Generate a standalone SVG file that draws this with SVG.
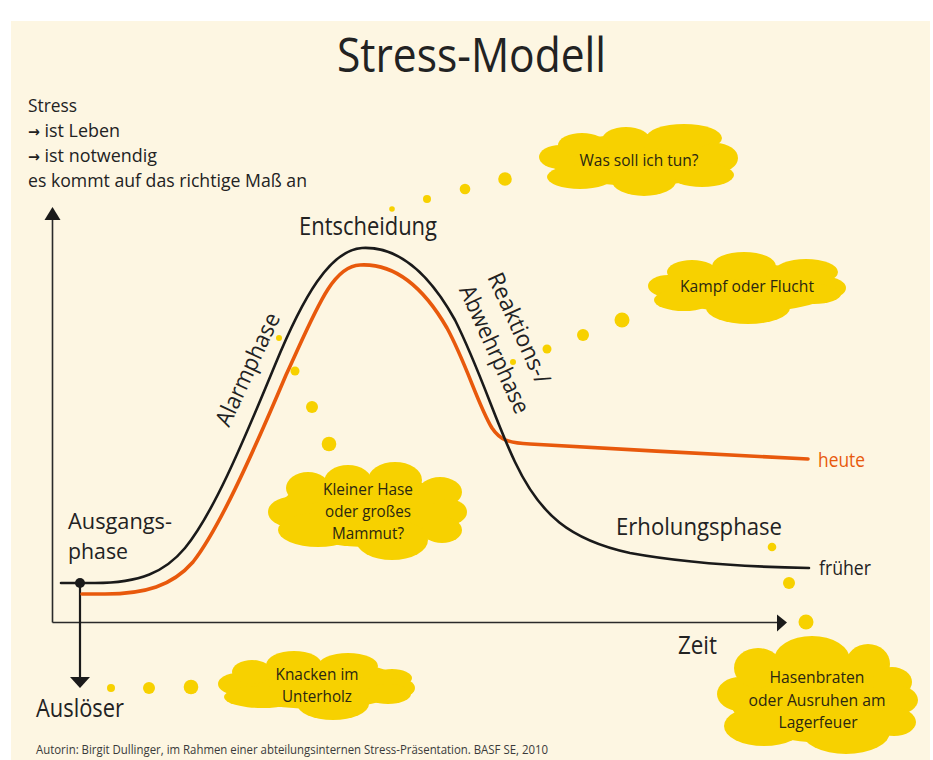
<svg xmlns="http://www.w3.org/2000/svg" width="933" height="760" viewBox="0 0 933 760">
<style>
.t{font-family:"Open Sans","Liberation Sans",sans-serif;fill:#222}
.c{font-family:"Open Sans","Liberation Sans",sans-serif;fill:#2b2710;font-size:16.5px;text-anchor:middle}
.ar{font-family:"DejaVu Sans","Open Sans",sans-serif;font-weight:bold}
.cloud{fill:#f7d100}
.dot{fill:#f7d100}
.ax{stroke:#2a2a2a;stroke-width:1.6;fill:none}
.arr{fill:#1a1a1a}
</style>
<rect width="933" height="760" fill="#ffffff"/>
<rect x="11" y="21" width="919" height="739" fill="#fdf6e2"/>

<g id="title"><text class="t" x="337" y="72" font-size="48" textLength="269" lengthAdjust="spacingAndGlyphs">Stress-Modell</text></g>

<g id="note" class="t" font-size="19">
<text x="28" y="112" textLength="49" lengthAdjust="spacingAndGlyphs">Stress</text>
<text x="28" y="137" textLength="92" lengthAdjust="spacingAndGlyphs"><tspan class="ar" font-size="15">→</tspan> ist Leben</text>
<text x="28" y="162" textLength="129" lengthAdjust="spacingAndGlyphs"><tspan class="ar" font-size="15">→</tspan> ist notwendig</text>
<text x="28" y="187" textLength="279" lengthAdjust="spacingAndGlyphs">es kommt auf das richtige Maß an</text>
</g>

<g id="axes">
<line class="ax" x1="52.5" y1="216" x2="52.5" y2="622.5"/>
<line class="ax" x1="52.5" y1="622.5" x2="779" y2="622.5"/>
<polygon class="arr" points="44.5,220 52.5,207 60.5,220"/>
<polygon class="arr" points="777,614.5 787,622.5 777,631.5"/>
</g>

<g id="connectors">
<g id="trigger-arrow">
<line x1="80" y1="583" x2="80" y2="679" stroke="#1a1a1a" stroke-width="2.2"/>
<polygon class="arr" points="70,677 90,677 80,688"/>
</g>
<g id="dots-was-soll">
<circle class="dot" cx="392" cy="209" r="2.8"/>
<circle class="dot" cx="427" cy="199" r="4"/>
<circle class="dot" cx="465" cy="189" r="5.3"/>
<circle class="dot" cx="505" cy="179" r="6.8"/>
</g>
<g id="dots-kampf">
<circle class="dot" cx="513" cy="362" r="3"/>
<circle class="dot" cx="547" cy="349" r="4.5"/>
<circle class="dot" cx="583" cy="335" r="6"/>
<circle class="dot" cx="622" cy="320" r="7.5"/>
</g>
<g id="dots-hase">
<circle class="dot" cx="279" cy="338" r="3"/>
<circle class="dot" cx="295" cy="371" r="4.5"/>
<circle class="dot" cx="312" cy="407" r="6"/>
<circle class="dot" cx="329" cy="444" r="7.3"/>
</g>
<g id="dots-knacken">
<circle class="dot" cx="111" cy="688" r="4"/>
<circle class="dot" cx="149" cy="688" r="6"/>
<circle class="dot" cx="191" cy="687" r="7.3"/>
</g>
<g id="dots-hasenbraten">
<circle class="dot" cx="772" cy="547" r="4.3"/>
<circle class="dot" cx="789" cy="583" r="6"/>
<circle class="dot" cx="806" cy="622" r="7.5"/>
</g>
</g>

<g id="curves" fill="none" stroke-linecap="round" stroke-linejoin="round">
<path id="heute-curve" d="M82,594 L105,594 C145,594 172,586 193,562 C218,530 250,460 286,375 C316,310 332,266 360,265 C396,263 425,290 447,328 C467,365 478,405 492,428 C500,440 508,443 530,444 C620,449 720,455 808,459" stroke="#e8590c" stroke-width="3.6"/>
<path id="frueher-curve" d="M61,583 L95,583 C140,583 165,572 185,548 C212,515 240,450 275,365 C303,297 330,250 362,248 C400,246 430,275 455,320 C480,370 495,420 515,462 C540,515 570,540 630,553 C690,564 750,567 809,568" stroke="#1a1a1a" stroke-width="2.6"/>
<circle cx="80" cy="583" r="5" fill="#1a1a1a" stroke="none"/>
</g>

<g id="labels" class="t">
<text x="299" y="235" font-size="25" textLength="138" lengthAdjust="spacingAndGlyphs">Entscheidung</text>
<text x="68" y="529" font-size="21.5" textLength="104" lengthAdjust="spacingAndGlyphs">Ausgangs-</text>
<text x="68" y="559" font-size="21.5" textLength="60" lengthAdjust="spacingAndGlyphs">phase</text>
<text x="36" y="717" font-size="26" textLength="88" lengthAdjust="spacingAndGlyphs">Auslöser</text>
<text x="678" y="654" font-size="25" textLength="39" lengthAdjust="spacingAndGlyphs">Zeit</text>
<text x="616" y="535" font-size="23" textLength="166" lengthAdjust="spacingAndGlyphs">Erholungsphase</text>
<text x="818" y="467" font-size="20" textLength="47" lengthAdjust="spacingAndGlyphs" style="fill:#e8590c">heute</text>
<text x="819" y="575" font-size="20" textLength="52" lengthAdjust="spacingAndGlyphs">früher</text>
<text transform="translate(229,428) rotate(-65)" font-size="23" textLength="122" lengthAdjust="spacingAndGlyphs">Alarmphase</text>
<g transform="translate(487,277) rotate(65.5)" font-size="23">
<text x="0" y="0" textLength="120" lengthAdjust="spacingAndGlyphs">Reaktions-/</text>
<text x="0" y="31" textLength="138" lengthAdjust="spacingAndGlyphs">Abwehrphase</text>
</g>
</g>

<g id="cloud-was-soll">
<g class="cloud">
<ellipse cx="638" cy="160" rx="88" ry="26"/>
<ellipse cx="560" cy="157" rx="21" ry="12"/>
<ellipse cx="582" cy="145" rx="24" ry="12"/>
<ellipse cx="626" cy="140" rx="24" ry="13"/>
<ellipse cx="684" cy="138" rx="38" ry="14"/>
<ellipse cx="716" cy="158" rx="22" ry="15"/>
<ellipse cx="702" cy="175" rx="32" ry="12"/>
<ellipse cx="644" cy="181" rx="32" ry="15"/>
<ellipse cx="580" cy="177" rx="33" ry="12"/>
</g>
<text class="c" x="639" y="166" textLength="119" lengthAdjust="spacingAndGlyphs">Was soll ich tun?</text>
</g>

<g id="cloud-kampf">
<g class="cloud">
<ellipse cx="747" cy="288" rx="88" ry="24"/>
<ellipse cx="668" cy="286" rx="20" ry="11"/>
<ellipse cx="692" cy="272" rx="25" ry="12"/>
<ellipse cx="744" cy="266" rx="32" ry="14"/>
<ellipse cx="806" cy="272" rx="32" ry="13"/>
<ellipse cx="826" cy="288" rx="20" ry="11"/>
<ellipse cx="814" cy="294" rx="27" ry="10"/>
<ellipse cx="748" cy="308" rx="42" ry="16"/>
<ellipse cx="684" cy="300" rx="30" ry="11"/>
</g>
<text class="c" x="747" y="292" textLength="134" lengthAdjust="spacingAndGlyphs">Kampf oder Flucht</text>
</g>

<g id="cloud-hase">
<g class="cloud">
<ellipse cx="367" cy="511" rx="88" ry="36"/>
<ellipse cx="290" cy="512" rx="22" ry="15"/>
<ellipse cx="308" cy="488" rx="22" ry="16"/>
<ellipse cx="348" cy="482" rx="24" ry="17"/>
<ellipse cx="395" cy="480" rx="27" ry="18"/>
<ellipse cx="440" cy="492" rx="22" ry="15"/>
<ellipse cx="448" cy="512" rx="19" ry="13"/>
<ellipse cx="442" cy="530" rx="20" ry="13"/>
<ellipse cx="392" cy="540" rx="36" ry="20"/>
<ellipse cx="318" cy="530" rx="40" ry="17"/>
</g>
<text class="c" x="368" y="495" textLength="90" lengthAdjust="spacingAndGlyphs">Kleiner Hase</text>
<text class="c" x="368" y="517" textLength="86" lengthAdjust="spacingAndGlyphs">oder großes</text>
<text class="c" x="368" y="539" textLength="72" lengthAdjust="spacingAndGlyphs">Mammut?</text>
</g>

<g id="cloud-knacken">
<g class="cloud">
<ellipse cx="317" cy="685" rx="88" ry="24"/>
<ellipse cx="238" cy="684" rx="20" ry="11"/>
<ellipse cx="252" cy="672" rx="20" ry="12"/>
<ellipse cx="294" cy="665" rx="28" ry="14"/>
<ellipse cx="348" cy="666" rx="30" ry="13"/>
<ellipse cx="392" cy="678" rx="20" ry="9"/>
<ellipse cx="398" cy="688" rx="17" ry="10"/>
<ellipse cx="388" cy="694" rx="23" ry="10"/>
<ellipse cx="333" cy="704" rx="36" ry="16"/>
<ellipse cx="262" cy="697" rx="38" ry="11"/>
</g>
<text class="c" x="317" y="680" textLength="83" lengthAdjust="spacingAndGlyphs">Knacken im</text>
<text class="c" x="317" y="702" textLength="70" lengthAdjust="spacingAndGlyphs">Unterholz</text>
</g>

<g id="cloud-hasenbraten">
<g class="cloud">
<ellipse cx="817" cy="697" rx="88" ry="45"/>
<ellipse cx="740" cy="694" rx="23" ry="17"/>
<ellipse cx="758" cy="668" rx="24" ry="20"/>
<ellipse cx="812" cy="660" rx="38" ry="24"/>
<ellipse cx="868" cy="664" rx="22" ry="20"/>
<ellipse cx="892" cy="682" rx="20" ry="15"/>
<ellipse cx="898" cy="700" rx="20" ry="14"/>
<ellipse cx="894" cy="722" rx="22" ry="14"/>
<ellipse cx="846" cy="732" rx="44" ry="22"/>
<ellipse cx="764" cy="726" rx="40" ry="20"/>
</g>
<text class="c" x="817" y="683" textLength="95" lengthAdjust="spacingAndGlyphs">Hasenbraten</text>
<text class="c" x="817" y="706" textLength="137" lengthAdjust="spacingAndGlyphs">oder Ausruhen am</text>
<text class="c" x="818" y="728" textLength="79" lengthAdjust="spacingAndGlyphs">Lagerfeuer</text>
</g>

<g id="footer"><text class="t" x="36" y="754" font-size="12.5" textLength="512" lengthAdjust="spacingAndGlyphs" style="fill:#3a3a3a">Autorin: Birgit Dullinger, im Rahmen einer abteilungsinternen Stress-Präsentation. BASF SE, 2010</text></g>
</svg>
